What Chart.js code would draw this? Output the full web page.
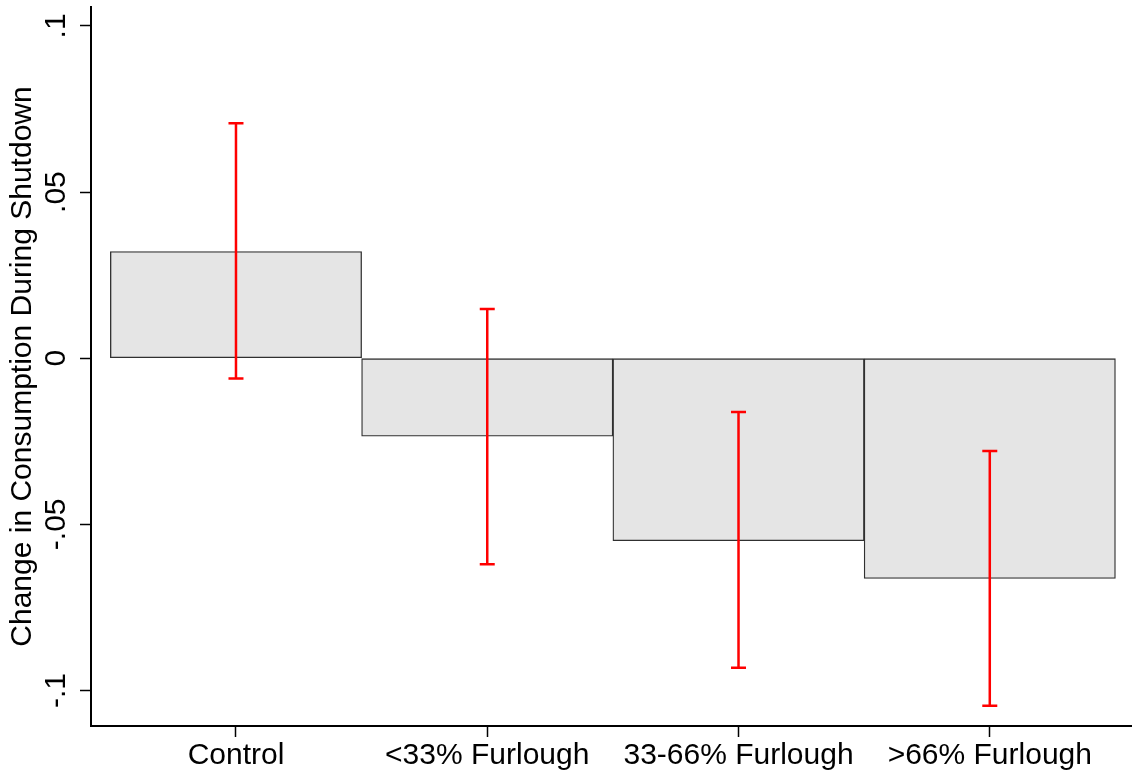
<!DOCTYPE html>
<html>
<head>
<meta charset="utf-8">
<script src="https://cdn.jsdelivr.net/npm/chart.js@4"></script>
<style>
  body { margin: 0; background: #fff; }
  #wrap { width: 1132px; height: 776px; position: relative; }
</style>
</head>
<body>
<div id="wrap"><canvas id="chart"></canvas></div>
<script>
// values
const categories = ["Control", "<33% Furlough", "33-66% Furlough", ">66% Furlough"];
const means = [0.0321, -0.0235, -0.0549, -0.0663];
const ciUpper = [0.0707, 0.0148, -0.0162, -0.0279];
const ciLower = [-0.0061, -0.0620, -0.0932, -0.1046];
const yTickValues = [-0.1, -0.05, 0, 0.05, 0.1];
const yTickLabels = ["-.1", "-.05", "0", ".05", ".1"];

const FONT = "'Liberation Sans', Arial, Helvetica, sans-serif";

// red range caps drawn through the chart scales
const errorBars = {
  id: "errorBars",
  afterDatasetsDraw(chart) {
    const ctx = chart.ctx;
    const xs = chart.scales.x;
    const ys = chart.scales.y;
    ctx.save();
    ctx.strokeStyle = "#ff0000";
    ctx.lineWidth = 2.5;
    categories.forEach((c, i) => {
      const x = xs.getPixelForValue(i + 1);
      const yHi = ys.getPixelForValue(ciUpper[i]);
      const yLo = ys.getPixelForValue(ciLower[i]);
      ctx.beginPath();
      ctx.moveTo(x, yHi);
      ctx.lineTo(x, yLo);
      ctx.moveTo(x - 7.5, yHi);
      ctx.lineTo(x + 7.5, yHi);
      ctx.moveTo(x - 7.5, yLo);
      ctx.lineTo(x + 7.5, yLo);
      ctx.stroke();
    });
    ctx.restore();
  },
};

const axisGrid = {
  drawOnChartArea: false,
  drawTicks: true,
  offset: false,
  tickLength: 11,
  color: "#000",
  tickWidth: 1.5,
};

new Chart(document.getElementById("chart"), {
  type: "bar",
  data: {
    datasets: [
      {
        data: means.map((v, i) => ({ x: i + 1, y: v })),
        backgroundColor: "#e5e5e5",
        borderColor: "#303030",
        borderWidth: 1.3,
        borderSkipped: false,
        barPercentage: 1,
        categoryPercentage: 1,
      },
    ],
  },
  options: {
    responsive: true,
    maintainAspectRatio: false,
    animation: false,
    layout: { padding: { top: 7, right: 0, bottom: 0, left: 0 } },
    plugins: {
      legend: { display: false },
      tooltip: { enabled: false },
    },
    scales: {
      x: {
        type: "linear",
        offset: false,
        min: 0.423,
        max: 4.566,
        grid: axisGrid,
        border: { display: true, color: "#000", width: 2 },
        afterBuildTicks: (scale) => {
          scale.ticks = categories.map((c, i) => ({ value: i + 1 }));
        },
        afterFit: (scale) => {
          scale.height = 50;
          scale.paddingLeft = 0;
          scale.paddingRight = 0;
        },
        ticks: {
          autoSkip: false,
          maxRotation: 0,
          padding: 1,
          color: "#000",
          font: { family: FONT, size: 30 },
          callback: (v) => categories[v - 1],
        },
      },
      y: {
        min: -0.1107,
        max: 0.1057,
        grid: axisGrid,
        border: { display: true, color: "#000", width: 2 },
        afterBuildTicks: (scale) => {
          scale.ticks = yTickValues.map((v) => ({ value: v }));
        },
        afterFit: (scale) => {
          scale.width = 91;
          scale.paddingTop = 0;
          scale.paddingBottom = 0;
        },
        ticks: {
          autoSkip: false,
          minRotation: 90,
          maxRotation: 90,
          crossAlign: "center",
          padding: -3,
          color: "#000",
          font: { family: FONT, size: 30 },
          callback: (v) => yTickLabels[yTickValues.indexOf(v)],
        },
        title: {
          display: true,
          text: "Change in Consumption During Shutdown",
          color: "#000",
          font: { family: FONT, size: 30 },
          padding: { top: 5, bottom: 0 },
        },
      },
    },
  },
  plugins: [errorBars],
});
</script>
</body>
</html>
